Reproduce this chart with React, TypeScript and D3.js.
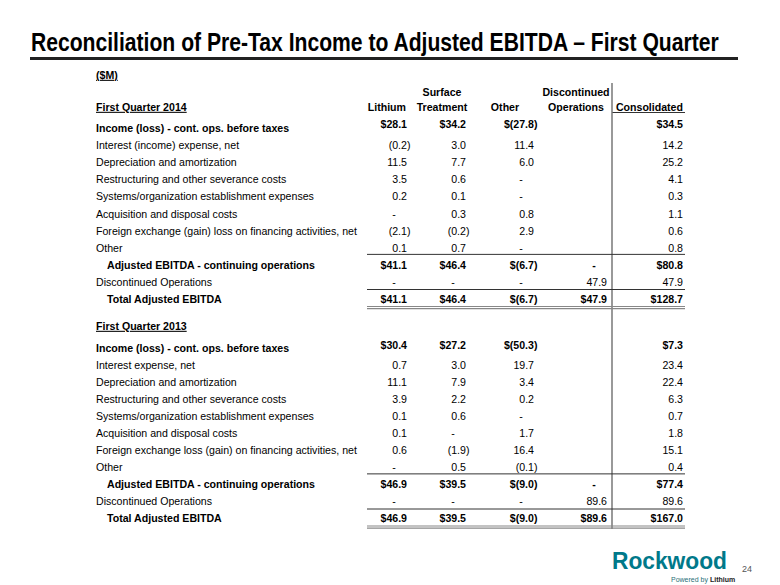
import React from "react";
import * as d3 from "d3";

// ---------- DATA ----------
const columns = ["Lithium", "Surface Treatment", "Other", "Discontinued Operations", "Consolidated"];
const headerTop = ["", "Surface", "", "Discontinued", ""];
const headerBottom = ["Lithium", "Treatment", "Other", "Operations", "Consolidated"];

const labels2014 = [
  "Income (loss) - cont. ops. before taxes",
  "Interest (income) expense, net",
  "Depreciation and amortization",
  "Restructuring and other severance costs",
  "Systems/organization establishment expenses",
  "Acquisition and disposal costs",
  "Foreign exchange (gain) loss on financing activities, net",
  "Other",
  "Adjusted EBITDA - continuing operations",
  "Discontinued Operations",
  "Total Adjusted EBITDA",
];
const labels2013 = [
  "Income (loss) - cont. ops. before taxes",
  "Interest expense, net",
  "Depreciation and amortization",
  "Restructuring and other severance costs",
  "Systems/organization establishment expenses",
  "Acquisition and disposal costs",
  "Foreign exchange loss (gain) on financing activities, net",
  "Other",
  "Adjusted EBITDA - continuing operations",
  "Discontinued Operations",
  "Total Adjusted EBITDA",
];

// 0 is shown as "-", null is blank
const lithium2014 = [28.1, -0.2, 11.5, 3.5, 0.2, 0, -2.1, 0.1, 41.1, 0, 41.1];
const surface2014 = [34.2, 3.0, 7.7, 0.6, 0.1, 0.3, -0.2, 0.7, 46.4, 0, 46.4];
const other2014 = [-27.8, 11.4, 6.0, 0, 0, 0.8, 2.9, 0, -6.7, 0, -6.7];
const discontinued2014 = [null, null, null, null, null, null, null, null, 0, 47.9, 47.9];
const consolidated2014 = [34.5, 14.2, 25.2, 4.1, 0.3, 1.1, 0.6, 0.8, 80.8, 47.9, 128.7];

const lithium2013 = [30.4, 0.7, 11.1, 3.9, 0.1, 0.1, 0.6, 0, 46.9, 0, 46.9];
const surface2013 = [27.2, 3.0, 7.9, 2.2, 0.6, 0, -1.9, 0.5, 39.5, 0, 39.5];
const other2013 = [-50.3, 19.7, 3.4, 0.2, 0, 1.7, 16.4, -0.1, -9.0, 0, -9.0];
const discontinued2013 = [null, null, null, null, null, null, null, null, 0, 89.6, 89.6];
const consolidated2013 = [7.3, 23.4, 22.4, 6.3, 0.7, 1.8, 15.1, 0.4, 77.4, 89.6, 167.0];

const boldRows = [0, 8, 10];
const indentRows = [8, 10];

// ---------- LAYOUT ----------
const FONT = "'Liberation Sans', Arial, sans-serif";
const FS = 10.6;
const colRight = d3.scaleOrdinal<string, number>().domain(columns).range([407, 466, 534, 607, 683]);
const headerX = [406, 442, 505, 576, 683];
const headerAnchor = ["end", "middle", "middle", "middle", "end"];

type Section = {
  title: string;
  labels: string[];
  values: (number | null)[][];
  titleY: number;
  firstY: number;
  lastY: number;
  incomeLabelY: number;
  incomeValueY: number;
};

const sections: Section[] = [
  {
    title: "First Quarter 2014",
    labels: labels2014,
    values: [lithium2014, surface2014, other2014, discontinued2014, consolidated2014],
    titleY: 107,
    firstY: 145.5,
    lastY: 299,
    incomeLabelY: 128,
    incomeValueY: 124.5,
  },
  {
    title: "First Quarter 2013",
    labels: labels2013,
    values: [lithium2013, surface2013, other2013, discontinued2013, consolidated2013],
    titleY: 326,
    firstY: 365,
    lastY: 518.5,
    incomeLabelY: 348,
    incomeValueY: 345,
  },
];

const BL = 3.8; // center -> baseline

function fmt(v: number, bold: boolean) {
  if (v === 0) return "-";
  const s = Math.abs(v).toFixed(1);
  const core = v < 0 ? `(${s})` : s;
  return bold ? `$${core}` : core;
}

function SectionView({ sec }: { sec: Section }) {
  const y = d3.scaleLinear().domain([1, 10]).range([sec.firstY, sec.lastY]);
  const rowLabelY = (i: number) => (i === 0 ? sec.incomeLabelY : y(i));
  const rowValueY = (i: number) => (i === 0 ? sec.incomeValueY : y(i));
  const lineX1 = 367;
  const lineX2 = 685;
  return (
    <g>
      <text x={96} y={sec.titleY + BL} fontWeight={700} fontSize={FS} textDecoration="underline">
        {sec.title}
      </text>
      {sec.labels.map((lab, i) => (
        <text
          key={"l" + i}
          x={indentRows.includes(i) ? 107 : 96}
          y={rowLabelY(i) + BL}
          fontWeight={boldRows.includes(i) ? 700 : 400}
          fontSize={FS}
        >
          {lab}
        </text>
      ))}
      {sec.values.map((col, c) =>
        col.map((v, i) => {
          if (v === null) return null;
          const bold = boldRows.includes(i);
          const r = colRight(columns[c]);
          const x = v === 0 ? r - 13 : v < 0 ? r + 3.5 : r;
          return (
            <text
              key={"v" + c + "-" + i}
              x={x}
              y={rowValueY(i) + BL}
              textAnchor={v === 0 ? "middle" : "end"}
              fontWeight={bold ? 700 : 400}
              fontSize={FS}
            >
              {fmt(v, bold)}
            </text>
          );
        })
      )}
      <line x1={lineX1} x2={lineX2} y1={y(8) - 10.5} y2={y(8) - 10.5} stroke="#333" strokeWidth={1} />
      <line x1={lineX1} x2={lineX2} y1={y(10) - 9.5} y2={y(10) - 9.5} stroke="#333" strokeWidth={1} />
      <line x1={lineX1} x2={lineX2} y1={y(10) + 7.5} y2={y(10) + 7.5} stroke="#888" strokeWidth={1.2} />
      <line x1={lineX1} x2={lineX2} y1={y(10) + 9.6} y2={y(10) + 9.6} stroke="#888" strokeWidth={1.2} />
    </g>
  );
}

export default function App() {
  return (
    <svg
      width={780}
      height={585}
      viewBox="0 0 780 585"
      style={{ position: "absolute", left: 0, top: 0, background: "#fff" }}
      fontFamily={FONT}
    >
      <rect width={780} height={585} fill="#fff" />
      <text
        transform="translate(31,51) scale(0.845,1)"
        x={0}
        y={0}
        fontFamily="'Liberation Sans', Arial, sans-serif"
        fontWeight={700}
        fontSize={25}
        fill="#000"
      >
        Reconciliation of Pre-Tax Income to Adjusted EBITDA – First Quarter
      </text>
      <rect x={30} y={57} width={708} height={3} fill="#222" />

      <text x={96} y={75 + BL} fontWeight={700} fontSize={FS} textDecoration="underline">
        ($M)
      </text>

      {columns.map((c, i) => (
        <g key={c}>
          {headerTop[i] && (
            <text x={headerX[i]} y={92 + BL} textAnchor={headerAnchor[i] as any} fontWeight={700} fontSize={FS}>
              {headerTop[i]}
            </text>
          )}
          <text x={headerX[i]} y={107 + BL} textAnchor={headerAnchor[i] as any} fontWeight={700} fontSize={FS}>
            {headerBottom[i]}
          </text>
        </g>
      ))}
      <line x1={612} x2={685} y1={112.5} y2={112.5} stroke="#333" strokeWidth={1} />
      <line x1={612} x2={612} y1={83} y2={529} stroke="#777" strokeWidth={1.5} />

      {sections.map((s) => (
        <SectionView key={s.title} sec={s} />
      ))}

      {/* logo */}
      <text x={612} y={569} fontWeight={700} fontSize={23} fill="#00798a" textLength={115} lengthAdjust="spacingAndGlyphs">
        Rockwood
      </text>
      <text x={671} y={582} fontSize={7} fill="#2a6f78">
        Powered by <tspan fontWeight={700} fill="#222">Lithium</tspan>
      </text>
      <text x={742} y={572} fontSize={9} fill="#555">
        24
      </text>
    </svg>
  );
}
